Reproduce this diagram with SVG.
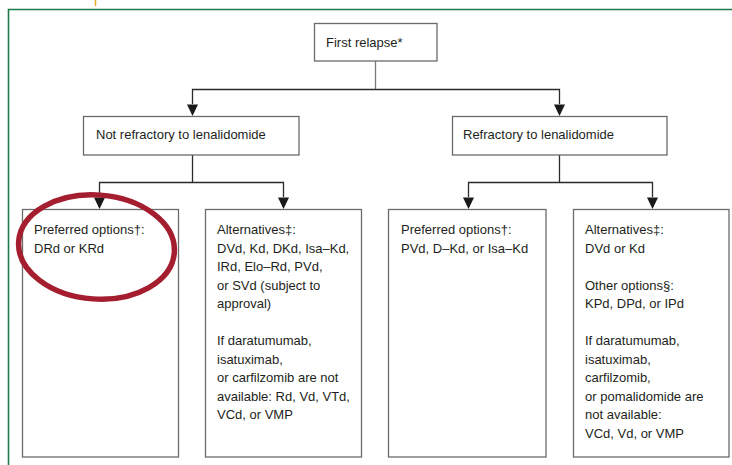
<svg xmlns="http://www.w3.org/2000/svg" width="732" height="465" viewBox="0 0 732 465">
  <style>
    .box { fill: #ffffff; stroke: #6b6b6b; stroke-width: 1.3; }
    .txt { font-family: "Liberation Sans", Arial, sans-serif; font-size: 13px; fill: #231f20; }
    .conn { fill: none; stroke: #2a2a2a; stroke-width: 1.3; }
    .stem { fill: none; stroke: #7a7a7a; stroke-width: 1.3; }
  </style>
  <defs>
    <marker id="arrow" viewBox="0 0 11 11" refX="5.5" refY="11" markerWidth="11" markerHeight="11" markerUnits="userSpaceOnUse" orient="auto-start-reverse">
      <path d="M0,0 L11,0 L5.5,11 Z" fill="#1a1a1a"/>
    </marker>
  </defs>

  <rect x="0" y="0" width="732" height="465" fill="#ffffff"/>

  <!-- page frame -->
  <path d="M8.5,465 L8.5,9.5 L732,9.5" fill="none" stroke="#1d7a4a" stroke-width="1.6"/>
  <line x1="95.5" y1="0" x2="95.5" y2="6" stroke="#e3ad2c" stroke-width="1.5"/>

  <!-- connectors -->
  <g id="connectors">
    <path class="stem" d="M375.5,61 L375.5,89.5"/>
    <path class="conn" d="M192.5,104 L192.5,89.5 L559.5,89.5 L559.5,104"/>
    <polygon points="187,104.5 198,104.5 192.5,116" fill="#1a1a1a"/>
    <polygon points="554,104.5 565,104.5 559.5,116" fill="#1a1a1a"/>

    <path class="conn" d="M192.5,155 L192.5,182.5"/>
    <path class="conn" d="M99.5,197 L99.5,182.5 L283.5,182.5 L283.5,197"/>
    <polygon points="94,197.5 105,197.5 99.5,209" fill="#1a1a1a"/>
    <polygon points="278,197.5 289,197.5 283.5,209" fill="#1a1a1a"/>

    <path class="conn" d="M559.5,155 L559.5,182.5"/>
    <path class="conn" d="M468.5,197 L468.5,182.5 L652.5,182.5 L652.5,197"/>
    <polygon points="463,197.5 474,197.5 468.5,209" fill="#1a1a1a"/>
    <polygon points="647,197.5 658,197.5 652.5,209" fill="#1a1a1a"/>
  </g>

  <g id="first-relapse">
    <rect class="box" x="314.5" y="23.5" width="122.5" height="37.5"/>
    <text class="txt" x="326" y="47">First relapse*</text>
  </g>

  <g id="not-refractory">
    <rect class="box" x="83.5" y="116.5" width="215.5" height="38.5"/>
    <text class="txt" x="96" y="139">Not refractory to lenalidomide</text>
  </g>

  <g id="refractory">
    <rect class="box" x="452.5" y="116.5" width="214.5" height="38.5"/>
    <text class="txt" x="463" y="139">Refractory to lenalidomide</text>
  </g>

  <g id="not-refractory-preferred">
    <rect class="box" x="22.5" y="209.5" width="156" height="247.5"/>
    <text class="txt" x="34" y="234">Preferred options†:</text>
    <text class="txt" x="34" y="252.5">DRd or KRd</text>
  </g>

  <g id="not-refractory-alternatives">
    <rect class="box" x="205.5" y="209.5" width="156" height="247.5"/>
    <text class="txt" x="217" y="234">Alternatives‡:</text>
    <text class="txt" x="217" y="252.5">DVd, Kd, DKd, Isa–Kd,</text>
    <text class="txt" x="217" y="271">IRd, Elo–Rd, PVd,</text>
    <text class="txt" x="217" y="289.5">or SVd (subject to</text>
    <text class="txt" x="217" y="308">approval)</text>
    <text class="txt" x="217" y="345">If daratumumab,</text>
    <text class="txt" x="217" y="363.5">isatuximab,</text>
    <text class="txt" x="217" y="382">or carfilzomib are not</text>
    <text class="txt" x="217" y="400.5">available: Rd, Vd, VTd,</text>
    <text class="txt" x="217" y="419">VCd, or VMP</text>
  </g>

  <g id="refractory-preferred">
    <rect class="box" x="388.5" y="209.5" width="157.5" height="247.5"/>
    <text class="txt" x="401" y="234">Preferred options†:</text>
    <text class="txt" x="401" y="252.5">PVd, D–Kd, or Isa–Kd</text>
  </g>

  <g id="refractory-alternatives">
    <rect class="box" x="573.5" y="209.5" width="155.5" height="247.5"/>
    <text class="txt" x="585" y="234">Alternatives‡:</text>
    <text class="txt" x="585" y="252.5">DVd or Kd</text>
    <text class="txt" x="585" y="289.5">Other options§:</text>
    <text class="txt" x="585" y="308">KPd, DPd, or IPd</text>
    <text class="txt" x="585" y="345">If daratumumab,</text>
    <text class="txt" x="585" y="363.5">isatuximab,</text>
    <text class="txt" x="585" y="382">carfilzomib,</text>
    <text class="txt" x="585" y="400.5">or pomalidomide are</text>
    <text class="txt" x="585" y="419">not available:</text>
    <text class="txt" x="585" y="437.5">VCd, Vd, or VMP</text>
  </g>

  <!-- highlight ring around the first preferred option -->
  <ellipse id="highlight" cx="96.5" cy="247" rx="78" ry="52" transform="rotate(4 96.5 247)" fill="none" stroke="#a51e2f" stroke-width="5.5"/>
</svg>
